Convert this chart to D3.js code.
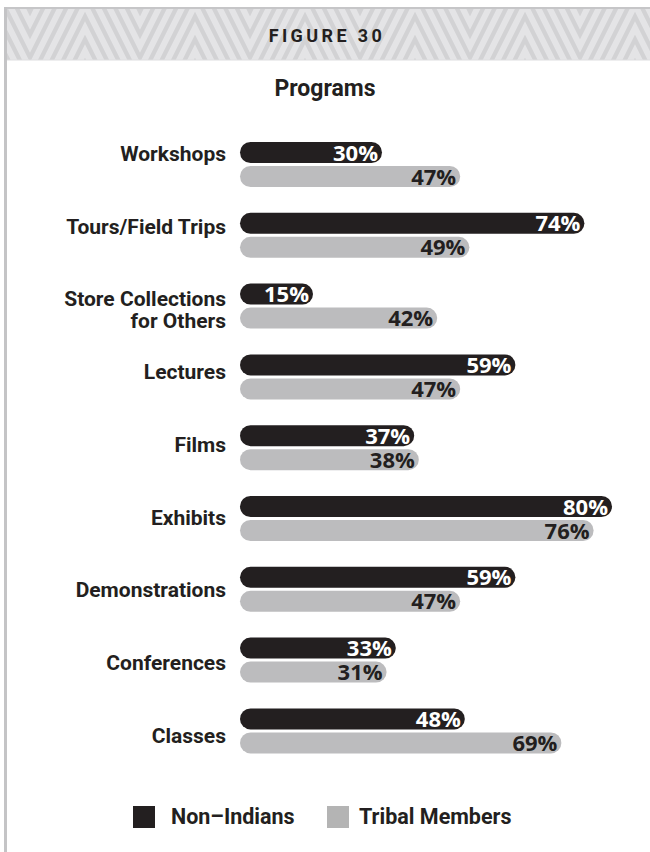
<!DOCTYPE html>
<html>
<head>
<meta charset="utf-8">
<script src="https://cdn.jsdelivr.net/npm/d3@7"></script>
<style>
  html, body { margin: 0; padding: 0; background: #fff; }
  svg { display: block; }
</style>
</head>
<body>
<script>
// Program offerings by audience
const categories = [
  "Workshops",
  "Tours/Field Trips",
  "Store Collections\nfor Others",
  "Lectures",
  "Films",
  "Exhibits",
  "Demonstrations",
  "Conferences",
  "Classes"
];
const nonIndians = [30, 74, 15, 59, 37, 80, 59, 33, 48];
const tribalMembers = [47, 49, 42, 47, 38, 76, 47, 31, 69];
const seriesNames = ["Non\u2013Indians", "Tribal Members"];
const figureLabel = "FIGURE 30";
const chartTitle = "Programs";

const W = 650, H = 852;
const dark = "#231f20", grey = "#bcbcbe", legendGrey = "#b4b4b4";
const labelFont = "Roboto, 'Liberation Sans', sans-serif";
const valFont = "'Open Sans', 'DejaVu Sans', sans-serif";

const svg = d3.select("body").append("svg")
  .attr("width", W).attr("height", H);

// ---- header band with chevron texture ----
const bandTop = 9, bandBottom = 60, frameX = 5.5;
svg.append("defs").append("clipPath").attr("id", "bandClip")
  .append("rect").attr("x", 7).attr("y", bandTop).attr("width", W - 7).attr("height", bandBottom - bandTop);

svg.append("rect").attr("x", 7).attr("y", bandTop)
  .attr("width", W - 7).attr("height", bandBottom - bandTop)
  .attr("fill", "#d2d2d4");

const zig = svg.append("g").attr("clip-path", "url(#bandClip)");
const period = 110, amp = 110, step = 23;
for (let y0 = -amp - step; y0 < bandBottom + step; y0 += step) {
  const pts = [];
  for (let k = -1; k * period / 2 < W + period; k++) {
    pts.push([k * period / 2 - 25, (k % 2 === 0) ? y0 : y0 + amp]);
  }
  zig.append("path")
    .attr("d", d3.line()(pts))
    .attr("fill", "none")
    .attr("stroke", "#e4e4e6")
    .attr("stroke-width", 6);
}
svg.append("line").attr("x1", 4).attr("x2", W).attr("y1", 8).attr("y2", 8)
  .attr("stroke", "#c6c6c8").attr("stroke-width", 2);
svg.append("line").attr("x1", 7).attr("x2", W).attr("y1", bandBottom).attr("y2", bandBottom)
  .attr("stroke", "#dedee0").attr("stroke-width", 1);
svg.append("line").attr("x1", frameX).attr("x2", frameX).attr("y1", 7).attr("y2", H)
  .attr("stroke", "#c4c4c6").attr("stroke-width", 3);

svg.append("text")
  .attr("x", W / 2 + 2).attr("y", 41.5)
  .attr("text-anchor", "middle")
  .attr("font-family", labelFont)
  .attr("font-weight", 700).attr("font-size", 18)
  .attr("letter-spacing", 3.4)
  .attr("fill", dark)
  .text(figureLabel);

svg.append("text")
  .attr("x", W / 2).attr("y", 96)
  .attr("text-anchor", "middle")
  .attr("font-family", labelFont)
  .attr("font-weight", 700).attr("font-size", 23)
  .attr("fill", dark)
  .text(chartTitle);

// ---- scales ----
const rowPitch = 70.8;
const y = d3.scaleBand().domain(categories)
  .range([142, 142 + categories.length * rowPitch]).paddingInner(0);
// category labels sit on their own, slightly wider spacing
const yLabel = d3.scalePoint().domain(categories).range([153.5, 153.5 + 8 * 72.7]);
const x = d3.scaleLinear().domain([0, 100]).range([240, 700]);
const barH = 21, gap = 3, capExtra = 4;
const barEnd = v => x(v) + capExtra;

const rows = categories.map((c, i) => ({ c, a: nonIndians[i], b: tribalMembers[i] }));

// category labels
const labels = svg.append("g").selectAll("text").data(rows).join("text")
  .attr("text-anchor", "end")
  .attr("font-family", labelFont)
  .attr("font-weight", 700).attr("font-size", 21)
  .attr("fill", dark);
labels.each(function (d) {
  const lines = d.c.split("\n");
  lines.forEach((ln, j) => {
    d3.select(this).append("tspan")
      .attr("x", 226)
      .attr("y", yLabel(d.c) + 7.5 + j * 22)
      .text(ln);
  });
});

const row = svg.append("g").selectAll("g.row").data(rows).join("g").attr("class", "row")
  .attr("transform", d => `translate(0,${y(d.c)})`);

// bars
row.append("rect")
  .attr("x", x(0)).attr("y", 0)
  .attr("width", d => barEnd(d.a) - x(0)).attr("height", barH)
  .attr("rx", barH / 2).attr("fill", dark);
row.append("rect")
  .attr("x", x(0)).attr("y", barH + gap)
  .attr("width", d => barEnd(d.b) - x(0)).attr("height", barH)
  .attr("rx", barH / 2).attr("fill", grey);

// value labels
row.append("text")
  .attr("x", d => barEnd(d.a) - 4).attr("y", 18.5)
  .attr("text-anchor", "end")
  .attr("font-family", valFont).attr("font-weight", 700).attr("font-size", 22)
  .attr("fill", "#fff")
  .text(d => d.a + "%");
row.append("text")
  .attr("x", d => barEnd(d.b) - 4).attr("y", barH + gap + 18.5)
  .attr("text-anchor", "end")
  .attr("font-family", valFont).attr("font-weight", 700).attr("font-size", 22)
  .attr("fill", dark)
  .text(d => d.b + "%");

// ---- legend ----
const legend = svg.append("g").attr("transform", "translate(0,806)");
const legendX = [133, 327];
const legendTextX = [171, 359];
const legendFill = [dark, legendGrey];
seriesNames.forEach((name, i) => {
  legend.append("rect").attr("x", legendX[i]).attr("y", 0)
    .attr("width", 22).attr("height", 22).attr("fill", legendFill[i]);
  legend.append("text")
    .attr("x", legendTextX[i]).attr("y", 18)
    .attr("font-family", labelFont)
    .attr("font-weight", 700).attr("font-size", 21.5)
    .attr("fill", dark)
    .text(name);
});
</script>
</body>
</html>
